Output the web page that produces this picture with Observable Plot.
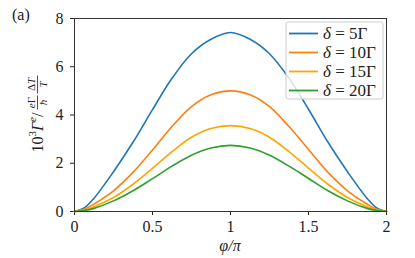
<!DOCTYPE html>
<html>
<head>
<meta charset="utf-8">
<script src="https://cdn.jsdelivr.net/npm/d3@7"></script>
<script src="https://cdn.jsdelivr.net/npm/@observablehq/plot@0.6"></script>
<style>
  html, body { margin: 0; padding: 0; background: #fff; }
  #chart { position: relative; width: 415px; height: 258px; }
</style>
</head>
<body>
<div id="chart"></div>
<script>
// --- data ---
const phi    = [0, 0.0625, 0.125, 0.25, 0.375, 0.5, 0.625, 0.75, 0.875, 1, 1.125, 1.25, 1.375, 1.5, 1.625, 1.75, 1.875, 1.9375, 2];
const delta5  = [0, 0.15, 0.55, 1.65, 2.87, 4.22, 5.52, 6.54, 7.14, 7.42, 7.14, 6.54, 5.52, 4.24, 2.87, 1.65, 0.55, 0.15, 0];
const delta10 = [0, 0.09, 0.31, 0.86, 1.62, 2.55, 3.52, 4.35, 4.84, 5.00, 4.84, 4.35, 3.52, 2.57, 1.62, 0.86, 0.31, 0.09, 0];
const delta15 = [0, 0.06, 0.20, 0.58, 1.13, 1.79, 2.48, 3.08, 3.44, 3.56, 3.44, 3.08, 2.48, 1.80, 1.13, 0.58, 0.20, 0.06, 0];
const delta20 = [0, 0.04, 0.13, 0.44, 0.86, 1.36, 1.88, 2.33, 2.63, 2.74, 2.63, 2.33, 1.88, 1.37, 0.86, 0.44, 0.13, 0.04, 0];
const seriesNames = ["δ = 5Γ", "δ = 10Γ", "δ = 15Γ", "δ = 20Γ"];
const seriesValues = [delta5, delta10, delta15, delta20];
const colors = ["#1f77b4", "#ff7f0e", "#ffa500", "#2ca02c"];
const xTicks = [0, 0.5, 1, 1.5, 2];
const yTicks = [0, 2, 4, 6, 8];

const FONT = "Liberation Serif";

const rows = [];
seriesNames.forEach((name, i) => {
  phi.forEach((p, j) => rows.push({series: name, phi: p, value: seriesValues[i][j]}));
});

const plot = Plot.plot({
  width: 415,
  height: 258,
  marginLeft: 74,
  marginRight: 29,
  marginTop: 18,
  marginBottom: 47,
  style: {fontSize: "16px", background: "white", color: "#222"},
  x: {domain: [0, 2], ticks: xTicks, tickFormat: d => String(d), label: null},
  y: {domain: [0, 8], ticks: yTicks, tickFormat: d => String(d), label: null},
  color: {domain: seriesNames, range: colors},
  marks: [
    Plot.axisX({ticks: xTicks, tickSize: 4, tickPadding: 5, tickFormat: d => String(d), label: null, fontSize: 16}),
    Plot.axisY({ticks: yTicks, tickSize: 4, tickPadding: 7, tickFormat: d => String(d), label: null, fontSize: 16}),
    Plot.line(rows, {x: "phi", y: "value", z: "series", stroke: "series", strokeWidth: 1.6, curve: "catmull-rom"}),
    Plot.frame({stroke: "#333", strokeWidth: 1})
  ]
});

document.getElementById("chart").appendChild(plot);

// --- annotations drawn relative to the scales ---
const svg = d3.select(plot);
const sx = plot.scale("x"), sy = plot.scale("y");
const x0 = sx.range[0], x1 = sx.range[1];
const yTop = sy.range[1], yBot = sy.range[0];

// x label
svg.append("text")
  .attr("x", (x0 + x1) / 2).attr("y", yBot + 40)
  .attr("text-anchor", "middle").attr("font-size", 16)
  .attr("font-style", "italic")
  .text("φ/π");

// (a)
svg.append("text")
  .attr("x", 12).attr("y", 20)
  .attr("font-size", 16)
  .attr("text-anchor", "start")
  .text("(a)");

// y label (rotated)
const gy = svg.append("g").attr("transform", `translate(${x0 - 31},${(yTop + yBot) / 2 - 2}) rotate(-90)`);
const t1 = gy.append("text").attr("x", -40).attr("y", 0).attr("font-size", 16).attr("text-anchor", "start");
t1.append("tspan").text("10");
t1.append("tspan").attr("font-size", 11).attr("dy", -7).text("3");
t1.append("tspan").attr("font-style", "italic").attr("dy", 7).text("Γ");
t1.append("tspan").attr("font-size", 11).attr("font-style", "italic").attr("dy", -7).text("e");
t1.append("tspan").attr("dy", 7).text("/");
// fraction eΓ/ħ
gy.append("text").attr("x", 10).attr("y", -8.5).attr("font-size", 11).attr("text-anchor", "middle")
  .html('<tspan font-style="italic">e</tspan>Γ');
gy.append("line").attr("x1", 3).attr("x2", 17).attr("y1", -5.5).attr("y2", -5.5).attr("stroke", "#222").attr("stroke-width", 0.8);
gy.append("text").attr("x", 10).attr("y", 4).attr("font-size", 11).attr("text-anchor", "middle")
  .attr("font-style", "italic").text("ħ");
// fraction ΔT/T
gy.append("text").attr("x", 28).attr("y", -8.5).attr("font-size", 11).attr("text-anchor", "middle")
  .html('Δ<tspan font-style="italic">T</tspan>');
gy.append("line").attr("x1", 19).attr("x2", 37).attr("y1", -5.5).attr("y2", -5.5).attr("stroke", "#222").attr("stroke-width", 0.8);
gy.append("text").attr("x", 28).attr("y", 4).attr("font-size", 11).attr("text-anchor", "middle")
  .attr("font-style", "italic").text("T");

// legend
const lx = x1 - 100, ly = yTop + 4;
const lg = svg.append("g").attr("transform", `translate(${lx},${ly})`);
lg.append("rect").attr("x", 0).attr("y", 0).attr("width", 97).attr("height", 77)
  .attr("rx", 2).attr("fill", "white").attr("fill-opacity", 0.8)
  .attr("stroke", "#ccc").attr("stroke-width", 1);
seriesNames.forEach((name, i) => {
  const yy = 11.5 + i * 19;
  lg.append("line").attr("x1", 3).attr("x2", 32).attr("y1", yy).attr("y2", yy)
    .attr("stroke", colors[i]).attr("stroke-width", 1.8);
  const t = lg.append("text").attr("x", 37).attr("y", yy + 5.5).attr("font-size", 17).attr("text-anchor", "start");
  t.append("tspan").attr("font-style", "italic").text("δ");
  t.append("tspan").text(" = " + name.split("= ")[1]);
});

svg.selectAll("text").style("font-family", FONT);
</script>
</body>
</html>
